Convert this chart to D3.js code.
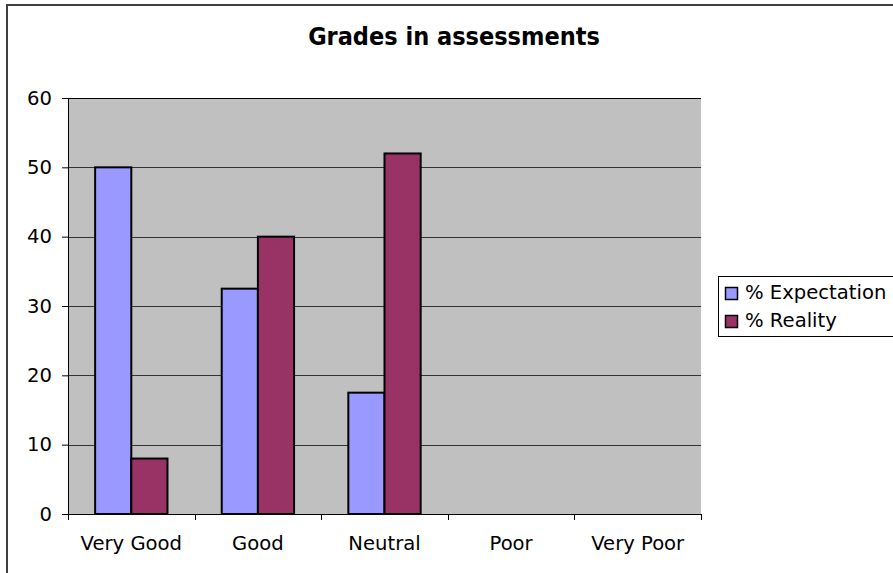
<!DOCTYPE html>
<html>
<head>
<meta charset="utf-8">
<script src="https://cdn.jsdelivr.net/npm/d3@7"></script>
<style>
  html, body { margin: 0; padding: 0; background: #ffffff; }
  svg { display: block; }
</style>
</head>
<body>
<svg id="chart" width="893" height="573"></svg>
<script>
const categories = ["Very Good", "Good", "Neutral", "Poor", "Very Poor"];
const seriesNames = ["% Expectation", "% Reality"];
const expectation = [50, 32.5, 17.5, 0, 0];
const reality = [8, 40, 52, 0, 0];
const seriesColors = ["#9999FF", "#993366"];
const yTicks = [0, 10, 20, 30, 40, 50, 60];
const titleText = "Grades in assessments";

const seriesValues = [expectation, reality];
const data = categories.map((c, i) => ({
  category: c,
  values: seriesNames.map((s, j) => ({ series: s, value: seriesValues[j][i] }))
}));

const svg = d3.select("#chart");
const plot = { left: 68, right: 701, top: 98, bottom: 514 };
const font = "'DejaVu Sans', Verdana, sans-serif";
const fs = 19.6;

// outer chart border
svg.append("rect")
  .attr("x", 7).attr("y", 5).attr("width", 892).attr("height", 580)
  .attr("fill", "#ffffff").attr("stroke", "#404040").attr("stroke-width", 2);

const x = d3.scaleBand().domain(categories).range([plot.left, plot.right]).paddingInner(0).paddingOuter(0);
const x1 = d3.scaleBand().domain(seriesNames).range([0, x.bandwidth()]).paddingInner(0).paddingOuter(0.75);
const y = d3.scaleLinear().domain([0, 60]).range([plot.bottom, plot.top]);
const color = d3.scaleOrdinal().domain(seriesNames).range(seriesColors);

// plot background
svg.append("rect")
  .attr("x", plot.left).attr("y", plot.top)
  .attr("width", plot.right - plot.left).attr("height", plot.bottom - plot.top)
  .attr("fill", "#C0C0C0");

// gridlines
svg.append("g").selectAll("line")
  .data(yTicks.filter(d => d > 0))
  .join("line")
  .attr("x1", plot.left).attr("x2", plot.right)
  .attr("y1", d => Math.round(y(d)) + 0.5).attr("y2", d => Math.round(y(d)) + 0.5)
  .attr("stroke", d => d === 60 ? "#000" : "#333").attr("stroke-width", 1);

// bars
const groups = svg.append("g").selectAll("g")
  .data(data)
  .join("g")
  .attr("transform", d => `translate(${x(d.category)},0)`);

groups.selectAll("rect")
  .data(d => d.values.filter(v => v.value > 0))
  .join("rect")
  .attr("x", d => x1(d.series))
  .attr("y", d => y(d.value))
  .attr("width", x1.bandwidth())
  .attr("height", d => y(0) - y(d.value))
  .attr("fill", d => color(d.series))
  .attr("stroke", "#000").attr("stroke-width", 2);

// y axis
const yAxis = d3.axisLeft(y).tickValues(yTicks).tickSize(6).tickPadding(10).tickFormat(d3.format("d"));
const yg = svg.append("g").attr("transform", `translate(${plot.left},0)`).call(yAxis);
yg.select(".domain").attr("stroke", "#000");
yg.selectAll(".tick line").attr("stroke", "#000");
yg.selectAll("text").attr("font-family", font).attr("font-size", fs).attr("fill", "#000");

// x axis (ticks at category boundaries)
const xg = svg.append("g").attr("transform", `translate(0,${plot.bottom})`);
xg.append("line").attr("x1", plot.left).attr("x2", plot.right).attr("y1", 0.5).attr("y2", 0.5).attr("stroke", "#000");
const boundaries = categories.map(c => x(c)).concat([x(categories[categories.length - 1]) + x.bandwidth()]);
xg.selectAll("line.tk").data(boundaries).join("line").attr("class", "tk")
  .attr("x1", d => Math.round(d) + 0.5).attr("x2", d => Math.round(d) + 0.5)
  .attr("y1", 0).attr("y2", 6).attr("stroke", "#000");
xg.selectAll("text").data(categories).join("text")
  .attr("x", d => x(d) + x.bandwidth() / 2)
  .attr("y", 36)
  .attr("text-anchor", "middle")
  .attr("font-family", font).attr("font-size", fs).attr("fill", "#000")
  .text(d => d);

// title
svg.append("text")
  .attr("x", 454).attr("y", 45)
  .attr("text-anchor", "middle")
  .attr("font-family", "'DejaVu Sans Condensed', 'DejaVu Sans', sans-serif")
  .attr("font-weight", "bold").attr("font-size", 25).attr("fill", "#000")
  .text(titleText);

// legend
const lg = svg.append("g");
lg.append("rect").attr("x", 718.5).attr("y", 276.5).attr("width", 200).attr("height", 60)
  .attr("fill", "#fff").attr("stroke", "#000").attr("stroke-width", 1);
const li = lg.selectAll("g").data(seriesNames).join("g")
  .attr("transform", (d, i) => `translate(725,${287 + i * 28})`);
li.append("rect").attr("x", 0.5).attr("y", 0.5).attr("width", 12).attr("height", 12)
  .attr("fill", d => color(d)).attr("stroke", "#000").attr("stroke-width", 1.5);
li.append("text").attr("x", 20).attr("y", 12)
  .attr("font-family", font).attr("font-size", fs).attr("fill", "#000")
  .text(d => d);
</script>
</body>
</html>
